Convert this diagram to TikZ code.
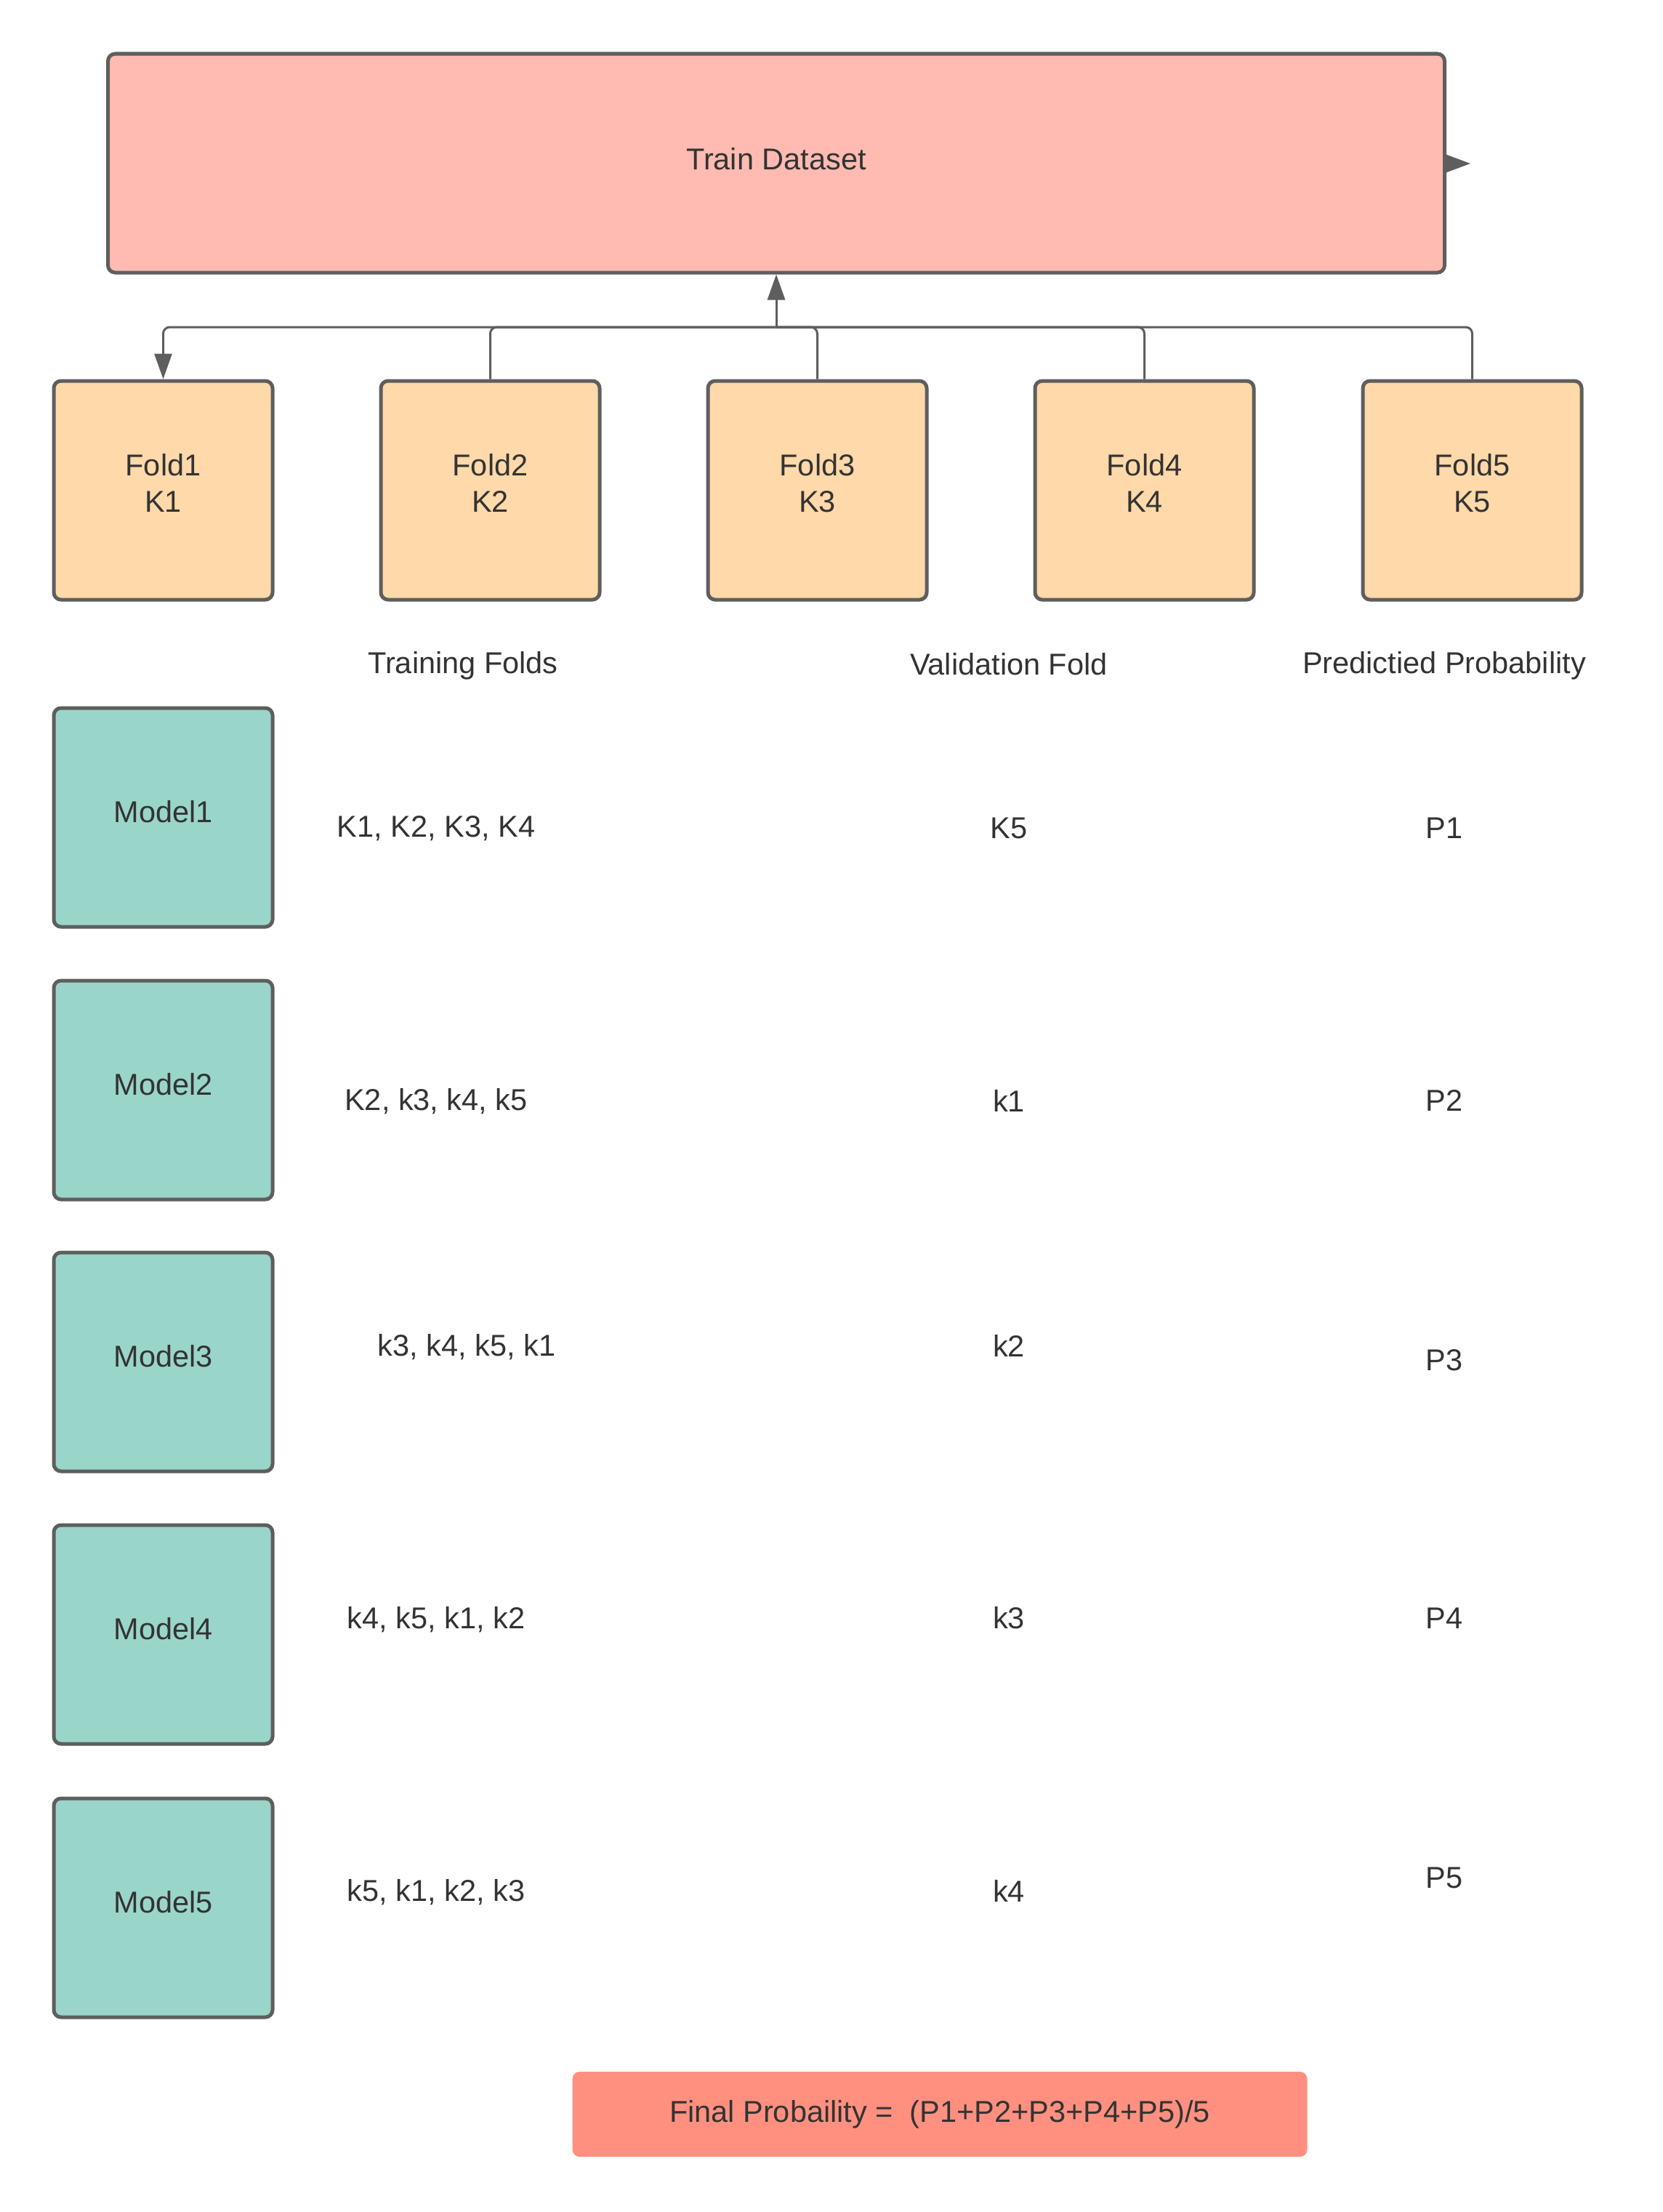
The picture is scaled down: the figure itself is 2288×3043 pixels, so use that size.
\documentclass[tikz,border=0pt]{standalone}
\usepackage{fontspec}
\setmainfont{Liberation Sans}
\usetikzlibrary{arrows.meta}
\definecolor{bordc}{HTML}{5E5E5E}
\definecolor{txtc}{HTML}{333333}
\definecolor{trainc}{HTML}{FFBBB1}
\definecolor{foldc}{HTML}{FFD9A9}
\definecolor{modelc}{HTML}{9AD5CA}
\definecolor{finalc}{HTML}{FF9080}
\tikzset{
  box/.style={draw=bordc, line width=5pt, rounded corners=10pt, inner sep=0pt, text=txtc, align=center,
    font=\fontsize{41.5}{50}\selectfont},
  foldbox/.style={box, fill=foldc, minimum width=301pt, minimum height=301pt, text depth=20pt},
  modelbox/.style={box, fill=modelc, minimum width=301pt, minimum height=301pt, text depth=16pt},
  lbl/.style={text=txtc, font=\fontsize{41.5}{50}\selectfont, inner sep=0pt},
  conn/.style={draw=bordc, line width=3pt, rounded corners=9pt},
  tip/.style={-{Triangle[length=35pt,width=24pt]}}
}
\begin{document}
\begin{tikzpicture}[x=1pt,y=-1pt]
\useasboundingbox (0,0) rectangle (2288,3043);
% train dataset
\node[box, fill=trainc, minimum width=1839pt, minimum height=301pt, text depth=12pt] (td) at (1068,224.5) {Train Dataset};
% folds
\node[foldbox] (f1) at (224.5,674.5) {Fold1\\K1};
\node[foldbox] (f2) at (674.5,674.5) {Fold2\\K2};
\node[foldbox] (f3) at (1124.5,674.5) {Fold3\\K3};
\node[foldbox] (f4) at (1574.5,674.5) {Fold4\\K4};
\node[foldbox] (f5) at (2025.5,674.5) {Fold5\\K5};
% connectors
\coordinate (j) at (1068,450);
\coordinate (tdr) at (2023,225);
\draw[conn, tip] (j) -- (td.south);
\draw[conn, tip] (j) -| (f1.north);
\draw[conn] (f2.north) |- (j);
\draw[conn] (f3.north) |- (j);
\draw[conn] (f4.north) |- (j);
\draw[conn] (f5.north) |- (j);
\draw[draw=bordc, line width=3pt, -{Triangle[length=36pt,width=26pt]}] (td.east |- tdr) -- (tdr);
% headers
\node[lbl] (h1) at (637,916) {Training Folds};
\node[lbl] (h2) at (1388,914) {Validation Fold};
\node[lbl] (h3) at (1987,916) {Predictied Probability};
% models
\node[modelbox] (m1) at (224.5,1124.5) {Model1};
\node[modelbox] (m2) at (224.5,1499.5) {Model2};
\node[modelbox] (m3) at (224.5,1873.5) {Model3};
\node[modelbox] (m4) at (224.5,2248.5) {Model4};
\node[modelbox] (m5) at (224.5,2624.5) {Model5};
% rows
\node[lbl] (t1) at (600,1140) {K1, K2, K3, K4};
\node[lbl] (v1) at (1388,1139) {K5};
\node[lbl] (p1) at (1987,1139) {P1};
\node[lbl] (t2) at (600,1515) {K2, k3, k4, k5};
\node[lbl] (v2) at (1388,1514) {k1};
\node[lbl] (p2) at (1987,1514) {P2};
\node[lbl] (t3) at (642,1853) {k3, k4, k5, k1};
\node[lbl] (v3) at (1388,1851) {k2};
\node[lbl] (p3) at (1987,1871) {P3};
\node[lbl] (t4) at (600,2228) {k4, k5, k1, k2};
\node[lbl] (v4) at (1388,2226) {k3};
\node[lbl] (p4) at (1987,2226) {P4};
\node[lbl] (t5) at (600,2603) {k5, k1, k2, k3};
\node[lbl] (v5) at (1388,2601) {k4};
\node[lbl] (p5) at (1987,2583) {P5};
% final
\node[fill=finalc, rounded corners=10pt, minimum width=1011pt, minimum height=117pt, inner sep=0pt,
  text=txtc, font=\fontsize{41.5}{50}\selectfont] (fin) at (1293,2908.5) {Final Probaility =\ \ (P1+P2+P3+P4+P5)/5};
\end{tikzpicture}
\end{document}
